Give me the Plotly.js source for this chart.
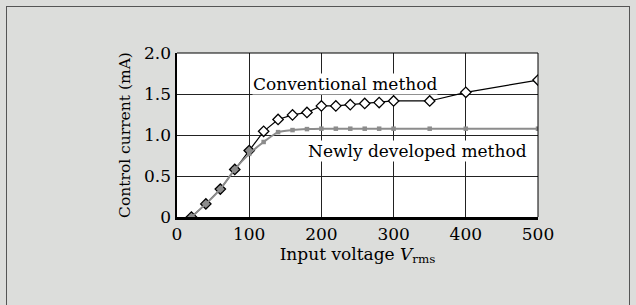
<!DOCTYPE html>
<html><head><meta charset="utf-8">
<script src="https://cdn.plot.ly/plotly-3.0.1.min.js"></script>
<style>
html,body{margin:0;padding:0;background:#dcdddb;}
#frame{position:absolute;left:6px;top:6px;width:624px;height:320px;border:1px solid #555;box-sizing:border-box;}
#chart{position:absolute;left:0;top:0;width:636px;height:305px;}
</style></head>
<body><div id="frame"></div><div id="chart"></div>
<script>
const voltage = [20,40,60,80,100,120,140,160,180,200,220,240,260,280,300,350,400,500];
const conventional = [0,0.16,0.34,0.58,0.81,1.045,1.19,1.245,1.275,1.355,1.355,1.37,1.385,1.395,1.415,1.415,1.52,1.67];
const newlyDeveloped = [0,0.16,0.34,0.58,0.77,0.915,1.035,1.06,1.072,1.077,1.077,1.077,1.077,1.077,1.077,1.077,1.077,1.077];
const xTicks = [0,100,200,300,400,500];
const xTickText = ['0','100','200','300','400','500'];
const yTicks = [0,0.5,1.0,1.5,2.0];
const yTickText = ['0','0.5','1.0','1.5','2.0'];
const labelConv = 'Conventional method';
const labelNew = 'Newly developed method';

const F = 'DejaVu Serif, serif';
const FS = 17;
const traces = [
  {x: voltage, y: conventional, mode:'lines+markers', line:{color:'#000',width:1.2},
   marker:{symbol:'diamond', size:8, color: voltage.map(v => v <= 100 ? '#8c8c8c' : '#fff'), line:{color:'#000',width:1.3}}},
  {x: voltage, y: newlyDeveloped, mode:'lines+markers', line:{color:'#8c8c8c',width:2, shape:'spline', smoothing:0.6},
   marker:{symbol:'square', size:4.5, color:'#8c8c8c'}}
];
const layout = {
  width:636, height:305, showlegend:false,
  paper_bgcolor:'rgba(0,0,0,0)', plot_bgcolor:'#fff',
  margin:{l:177, r:98, t:53, b:88},
  font:{family:F, size:FS, color:'#000'},
  xaxis:{range:[0,500], tickvals:xTicks, ticktext:xTickText, showgrid:true, gridcolor:'#222', gridwidth:1,
    zeroline:false, showline:true, linecolor:'#000', linewidth:2.5, ticks:'', ticklen:0,
    tickfont:{family:F,size:FS,color:'#000'},
    title:{text:'Input voltage <i>V</i><sub>rms</sub>', font:{family:F,size:FS,color:'#000'}, standoff:2}},
  yaxis:{range:[0,2], tickvals:yTicks, ticktext:yTickText, showgrid:true, gridcolor:'#222', gridwidth:1,
    zeroline:false, showline:true, linecolor:'#000', linewidth:2.5, ticks:'', ticklen:0,
    tickfont:{family:F,size:FS,color:'#000'},
    title:{text:'Control current (mA)', font:{family:F,size:15.5,color:'#000'}, standoff:10}},
  shapes:[
    {type:'line', xref:'paper', yref:'paper', x0:0, x1:1, y0:1, y1:1, line:{color:'#000',width:1}},
    {type:'line', xref:'paper', yref:'paper', x0:1, x1:1, y0:0, y1:1, line:{color:'#000',width:1}}
  ],
  annotations:[
    {x:233, y:1.625, xref:'x', yref:'y', text:labelConv, showarrow:false, bgcolor:'#fff', borderpad:0, font:{family:F,size:FS,color:'#000'}},
    {x:333, y:0.81, xref:'x', yref:'y', text:labelNew, showarrow:false, bgcolor:'#fff', borderpad:0, font:{family:F,size:FS,color:'#000'}}
  ]
};
Plotly.newPlot('chart', traces, layout, {displayModeBar:false, staticPlot:true});
</script></body></html>
